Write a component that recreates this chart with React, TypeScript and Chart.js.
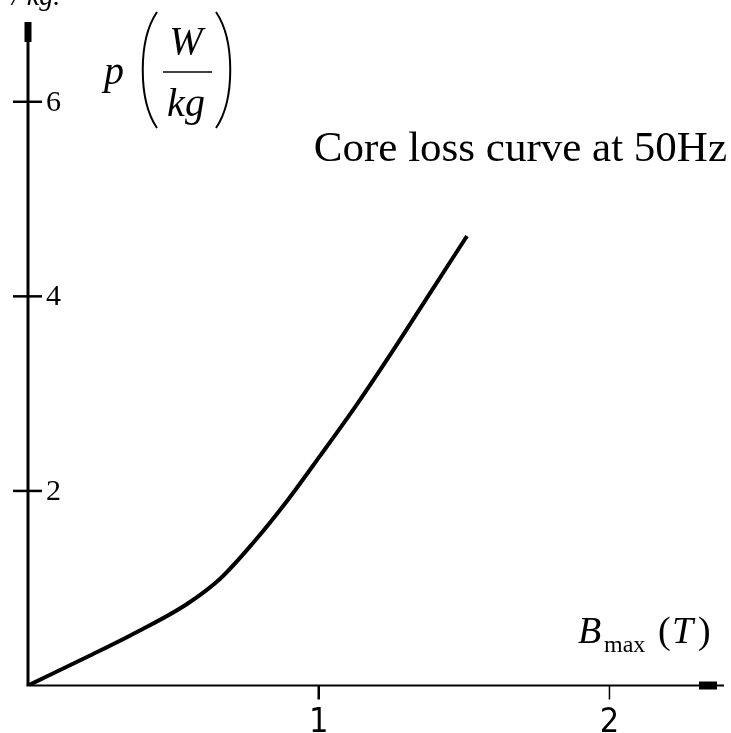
import React, { useEffect, useRef } from "react";
import { Chart, registerables } from "chart.js";

Chart.register(...registerables);

// Flux density B_max (T) and specific core loss p (W/kg) at 50 Hz
const bMax = [0, 0.203, 0.375, 0.547, 0.66, 0.774, 0.891, 1.004, 1.132, 1.245, 1.383, 1.51];
const pLoss = [0, 0.293, 0.55, 0.838, 1.095, 1.465, 1.897, 2.358, 2.893, 3.396, 4.034, 4.62];

const xTicks = [1, 2];
const yTicks = [2, 4, 6];
const xMax = 2.394;
const yMax = 6.82;

const SERIF = '"Liberation Serif", "Times New Roman", serif';
const NUM_X = '"Liberation Sans Narrow", "DejaVu Sans Condensed", "Liberation Sans", sans-serif';

const axesPlugin = {
  id: "hand-axes",
  afterDraw(chart: any) {
    const { ctx } = chart;
    const xs = chart.scales.x;
    const ys = chart.scales.y;
    const X = (v: number) => xs.getPixelForValue(v);
    const Y = (v: number) => ys.getPixelForValue(v);
    const x0 = X(0);
    const y0 = Y(0);
    ctx.save();
    ctx.strokeStyle = "#000";
    ctx.fillStyle = "#000";
    ctx.lineCap = "butt";

    // vertical axis with its arrow block
    ctx.lineWidth = 3;
    ctx.beginPath();
    ctx.moveTo(x0, y0);
    ctx.lineTo(x0, Y(yMax));
    ctx.stroke();
    ctx.fillRect(x0 - 3.5, Y(yMax), 7, 20);

    // horizontal axis with its arrow block
    ctx.lineWidth = 2;
    ctx.beginPath();
    ctx.moveTo(x0 - 1.5, y0);
    ctx.lineTo(X(xMax), y0);
    ctx.stroke();
    ctx.fillRect(X(xMax) - 25, y0 - 4, 18, 8);

    // y ticks cross the axis, labels to the right
    ctx.font = `30px ${SERIF}`;
    ctx.textAlign = "left";
    ctx.textBaseline = "middle";
    yTicks.forEach((v) => {
      const py = Y(v);
      ctx.lineWidth = 2.5;
      ctx.beginPath();
      ctx.moveTo(x0 - 15, py);
      ctx.lineTo(x0 + 14, py);
      ctx.stroke();
      ctx.fillText(String(v), x0 + 18, py + 1);
    });

    // x ticks below the axis
    ctx.font = `34px ${NUM_X}`;
    ctx.textAlign = "center";
    ctx.textBaseline = "alphabetic";
    xTicks.forEach((v, i) => {
      const px = X(v);
      ctx.lineWidth = i === 0 ? 2.5 : 1.5;
      ctx.beginPath();
      ctx.moveTo(px, y0);
      ctx.lineTo(px, y0 + 14);
      ctx.stroke();
      ctx.fillText(String(v), px, y0 + 46);
    });

    // y-axis quantity: p (W / kg)
    ctx.textAlign = "left";
    ctx.font = `italic 40px ${SERIF}`;
    ctx.fillText("p", 104, 84);
    ctx.textAlign = "center";
    ctx.fillText("W", 186, 54);
    ctx.fillText("kg", 186, 116);
    ctx.lineWidth = 1.5;
    ctx.beginPath();
    ctx.moveTo(163, 72);
    ctx.lineTo(212, 72);
    ctx.stroke();
    // tall brackets
    ctx.lineWidth = 2;
    ctx.beginPath();
    ctx.moveTo(157, 12);
    ctx.bezierCurveTo(138, 40, 138, 100, 157, 128);
    ctx.stroke();
    ctx.beginPath();
    ctx.moveTo(216, 12);
    ctx.bezierCurveTo(235, 40, 235, 100, 216, 128);
    ctx.stroke();

    // x-axis quantity: B_max (T)
    ctx.textAlign = "left";
    ctx.font = `italic 38px ${SERIF}`;
    ctx.fillText("B", 578, 643);
    ctx.font = `24px ${SERIF}`;
    ctx.fillText("max", 604, 652);
    ctx.font = `38px ${SERIF}`;
    ctx.fillText("(", 658, 643);
    ctx.font = `italic 38px ${SERIF}`;
    ctx.fillText("T", 672, 643);
    ctx.font = `38px ${SERIF}`;
    ctx.fillText(")", 698, 643);

    // caption
    ctx.font = `43px ${SERIF}`;
    ctx.textAlign = "right";
    ctx.fillText("Core loss curve at 50Hz", 727, 161);

    // clipped unit line at the very top
    ctx.textAlign = "left";
    ctx.font = `italic 28px ${SERIF}`;
    ctx.fillText("/ kg.", 12, 5);

    ctx.restore();
  },
};

export default function App() {
  const ref = useRef<HTMLCanvasElement | null>(null);

  useEffect(() => {
    if (!ref.current) return;
    const chart = new Chart(ref.current, {
      type: "line",
      data: {
        datasets: [
          {
            data: bMax.map((b, i) => ({ x: b, y: pLoss[i] })),
            borderColor: "#000",
            borderWidth: 4,
            pointRadius: 0,
            cubicInterpolationMode: "monotone",
            fill: false,
          },
        ],
      },
      options: {
        responsive: false,
        animation: false,
        layout: { padding: { left: 28, right: 7, top: 22, bottom: 47.5 } },
        plugins: { legend: { display: false }, tooltip: { enabled: false } },
        scales: {
          x: { type: "linear", min: 0, max: xMax, display: false },
          y: { type: "linear", min: 0, max: yMax, display: false },
        },
      },
      plugins: [axesPlugin],
    });
    return () => chart.destroy();
  }, []);

  return (
    <div style={{ position: "absolute", left: 0, top: 0, width: 731, height: 733, background: "#fff" }}>
      <canvas ref={ref} width={731} height={733} />
    </div>
  );
}
